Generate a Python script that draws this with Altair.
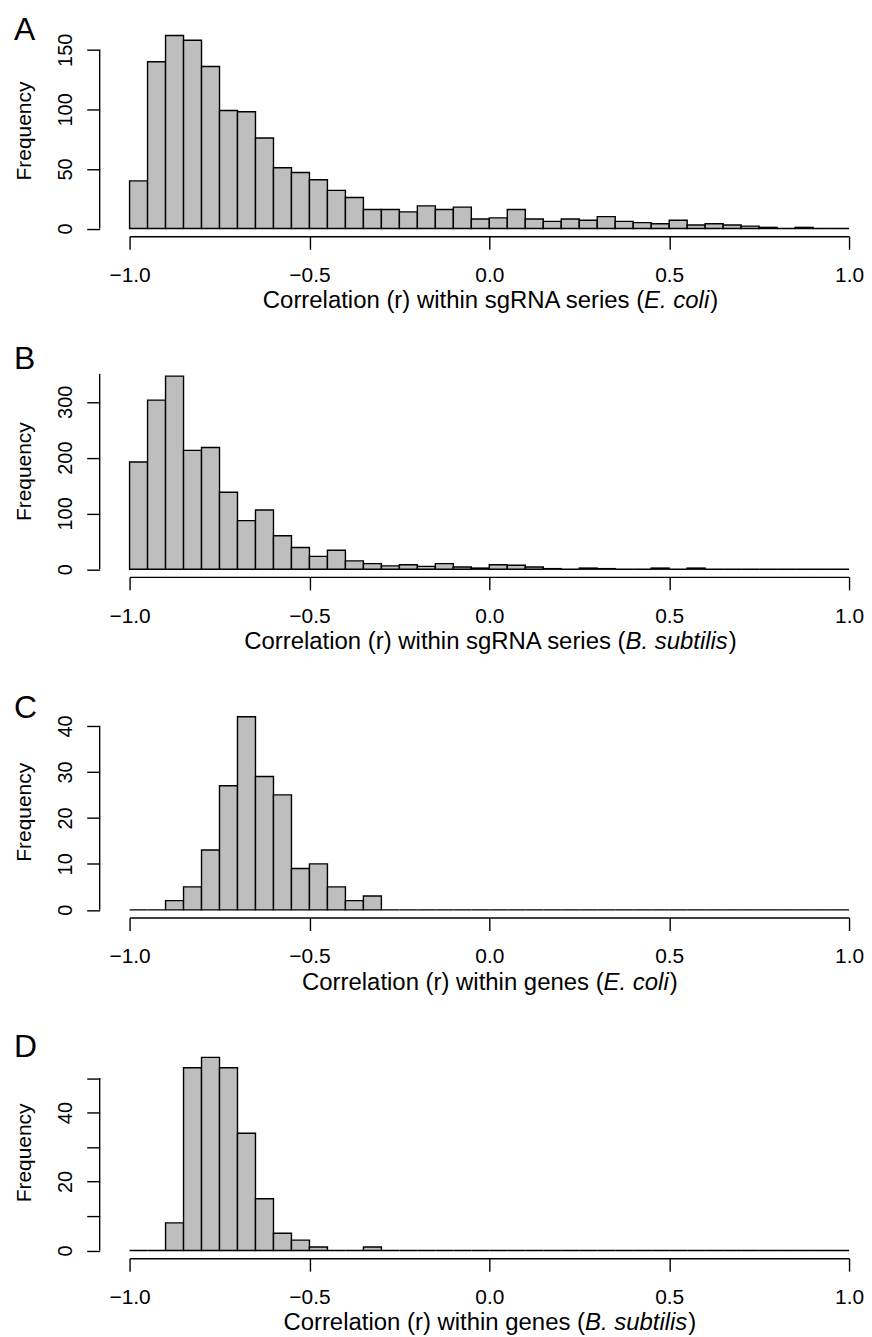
import altair as alt
import pandas as pd

# ---- data -------------------------------------------------------------------
edges = [round(-1 + 0.05 * i, 2) for i in range(41)]  # histogram breaks

counts_a = [40, 140, 162, 158, 136, 99, 98, 76, 51, 47,
            41, 32, 26, 16, 16, 14, 19, 16, 18, 8,
            9, 16, 8, 6, 8, 7, 10, 6, 5, 4,
            7, 3, 4, 3, 2, 1, 0, 1, 0, 0]
counts_b = [192, 303, 346, 213, 218, 138, 87, 106, 60, 39,
            23, 34, 15, 10, 6, 8, 5, 10, 4, 2,
            8, 7, 4, 1, 0, 2, 1, 0, 0, 2,
            0, 2, 0, 0, 0, 0, 0, 0, 0, 0]
counts_c = [0, 0, 2, 5, 13, 27, 42, 29, 25, 9,
            10, 5, 2, 3, 0, 0, 0, 0, 0, 0,
            0, 0, 0, 0, 0, 0, 0, 0, 0, 0,
            0, 0, 0, 0, 0, 0, 0, 0, 0, 0]
counts_d = [0, 0, 8, 53, 56, 53, 34, 15, 5, 3,
            1, 0, 0, 1, 0, 0, 0, 0, 0, 0,
            0, 0, 0, 0, 0, 0, 0, 0, 0, 0,
            0, 0, 0, 0, 0, 0, 0, 0, 0, 0]

x_ticks = [-1.0, -0.5, 0.0, 0.5, 1.0]
yticks_a = [0, 50, 100, 150]
ylabels_a = [0, 50, 100, 150]
yticks_b = [0, 50, 100, 150, 200, 250, 300, 350]
ylabels_b = [0, 100, 200, 300]
yticks_c = [0, 10, 20, 30, 40]
ylabels_c = [0, 10, 20, 30, 40]
yticks_d = [0, 10, 20, 30, 40, 50]
ylabels_d = [0, 20, 40]

letters = ["A", "B", "C", "D"]
title_prefix = ["Correlation (r) within sgRNA series (",
                "Correlation (r) within sgRNA series (",
                "Correlation (r) within genes (",
                "Correlation (r) within genes ("]
species = ["E. coli", "B. subtilis", "E. coli", "B. subtilis"]
title_suffix = ")"
y_title = "Frequency"

# ---- layout / style -----------------------------------------------------------
FONT = "Liberation Sans"
W, H = 722, 201.5
X_OFF = 7.75
Y_OFF = 30
TICK = 13
LW = 1.4
F_XLAB = 21
F_XTITLE = 24
F_YLAB = 20
F_YTITLE = 21
F_PANEL = 32
PAD_TOP = 3.5
letter_dy = [12.3, 0.5, 9, 7.5]

# Arial / Liberation Sans advance widths (per 1000 em)
CW = {' ': 278, '(': 333, ')': 333, '.': 278, 'A': 667, 'B': 667, 'C': 722,
      'E': 667, 'N': 722, 'R': 722, 'a': 556, 'b': 556, 'c': 500, 'e': 556,
      'g': 556, 'h': 556, 'i': 222, 'l': 222, 'n': 556, 'o': 556, 'r': 333,
      's': 500, 't': 278, 'u': 556, 'w': 722}


def tw(s, f):
    return sum(CW.get(ch, 556) for ch in s) / 1000.0 * f


def panel(i, counts, yticks, ylabels):
    df = pd.DataFrame({"lo": edges[:-1], "hi": edges[1:], "n": counts, "base": [0] * len(counts)})
    ymax = max(counts) * 1.04
    xs = alt.Scale(domain=[-1, 1], nice=False, zero=False)
    ys = alt.Scale(domain=[0, ymax], nice=False, zero=False)
    lab_list = ",".join(str(v) for v in ylabels)
    bars = alt.Chart(df).mark_rect(fill="#BEBEBE", stroke="black", strokeWidth=LW).encode(
        x=alt.X("lo:Q", scale=xs, axis=alt.Axis(
            values=x_ticks, format=".1f", title=None, offset=X_OFF, tickSize=TICK,
            grid=False, labelFlush=False, labelOverlap=False, labelBaseline="alphabetic",
            labelPadding=32.5, labelFontSize=F_XLAB, labelFont=FONT, labelColor="black",
            domainColor="black", tickColor="black", domainWidth=LW, tickWidth=LW)),
        x2="hi:Q",
        y=alt.Y("n:Q", scale=ys, axis=alt.Axis(
            values=yticks, title=None, offset=Y_OFF, tickSize=TICK, domain=False,
            grid=False, labelAngle=270, labelAlign="center", labelBaseline="alphabetic",
            labelPadding=15, labelOverlap=False, labelFontSize=F_YLAB, labelFont=FONT,
            labelColor="black", tickColor="black", tickWidth=LW,
            labelExpr=f"indexof([{lab_list}], datum.value) >= 0 ? datum.label : ''")),
        y2="base:Q",
    )
    axis_line = alt.Chart(pd.DataFrame({"k": [0]})).mark_rule(
        color="black", strokeWidth=LW).encode(
        x=alt.value(-Y_OFF), y=alt.datum(0, scale=ys), y2=alt.datum(yticks[-1]))

    ylab = alt.Chart(pd.DataFrame({"t": [y_title]})).mark_text(
        angle=270, align="center", baseline="middle", font=FONT, fontSize=F_YTITLE,
        color="black").encode(x=alt.value(-105), y=alt.value((H + X_OFF) / 2 - 1), text="t:N")

    plab = alt.Chart(pd.DataFrame({"t": [letters[i]]})).mark_text(
        align="left", baseline="alphabetic", font=FONT, fontSize=F_PANEL,
        color="black").encode(x=alt.value(-116), y=alt.value(letter_dy[i]), text="t:N")

    # x title with italic species name
    wp = tw(title_prefix[i], F_XTITLE)
    wi = tw(species[i], F_XTITLE)
    wc = tw(title_suffix, F_XTITLE)
    x0 = W / 2 - (wp + wi + wc) / 2
    xa = x0 + wp
    ty = H + 80
    t1 = alt.Chart(pd.DataFrame({"t": [title_prefix[i]]})).mark_text(
        align="right", baseline="alphabetic", font=FONT, fontSize=F_XTITLE,
        color="black").encode(x=alt.value(xa), y=alt.value(ty), text="t:N")
    t2 = alt.Chart(pd.DataFrame({"t": [species[i]]})).mark_text(
        align="left", baseline="alphabetic", font=FONT, fontSize=F_XTITLE,
        fontStyle="italic", color="black").encode(x=alt.value(xa), y=alt.value(ty), text="t:N")
    t3 = alt.Chart(pd.DataFrame({"t": [title_suffix]})).mark_text(
        align="left", baseline="alphabetic", font=FONT, fontSize=F_XTITLE,
        color="black").encode(x=alt.value(xa + wi + 1), y=alt.value(ty), text="t:N")

    return alt.layer(bars, axis_line, ylab, plab, t1, t2, t3).properties(width=W, height=H)


panels = [
    panel(0, counts_a, yticks_a, ylabels_a),
    panel(1, counts_b, yticks_b, ylabels_b),
    panel(2, counts_c, yticks_c, ylabels_c),
    panel(3, counts_d, yticks_d, ylabels_d),
]

chart = alt.vconcat(*panels, spacing=341.33 - H, bounds="flush").properties(
    padding={"left": 6, "top": PAD_TOP, "right": 0, "bottom": 0}
).configure(font=FONT, background="white").configure_view(stroke=None, strokeWidth=0)

chart.save("out.html", embed_options={"renderer": "svg", "actions": False})
